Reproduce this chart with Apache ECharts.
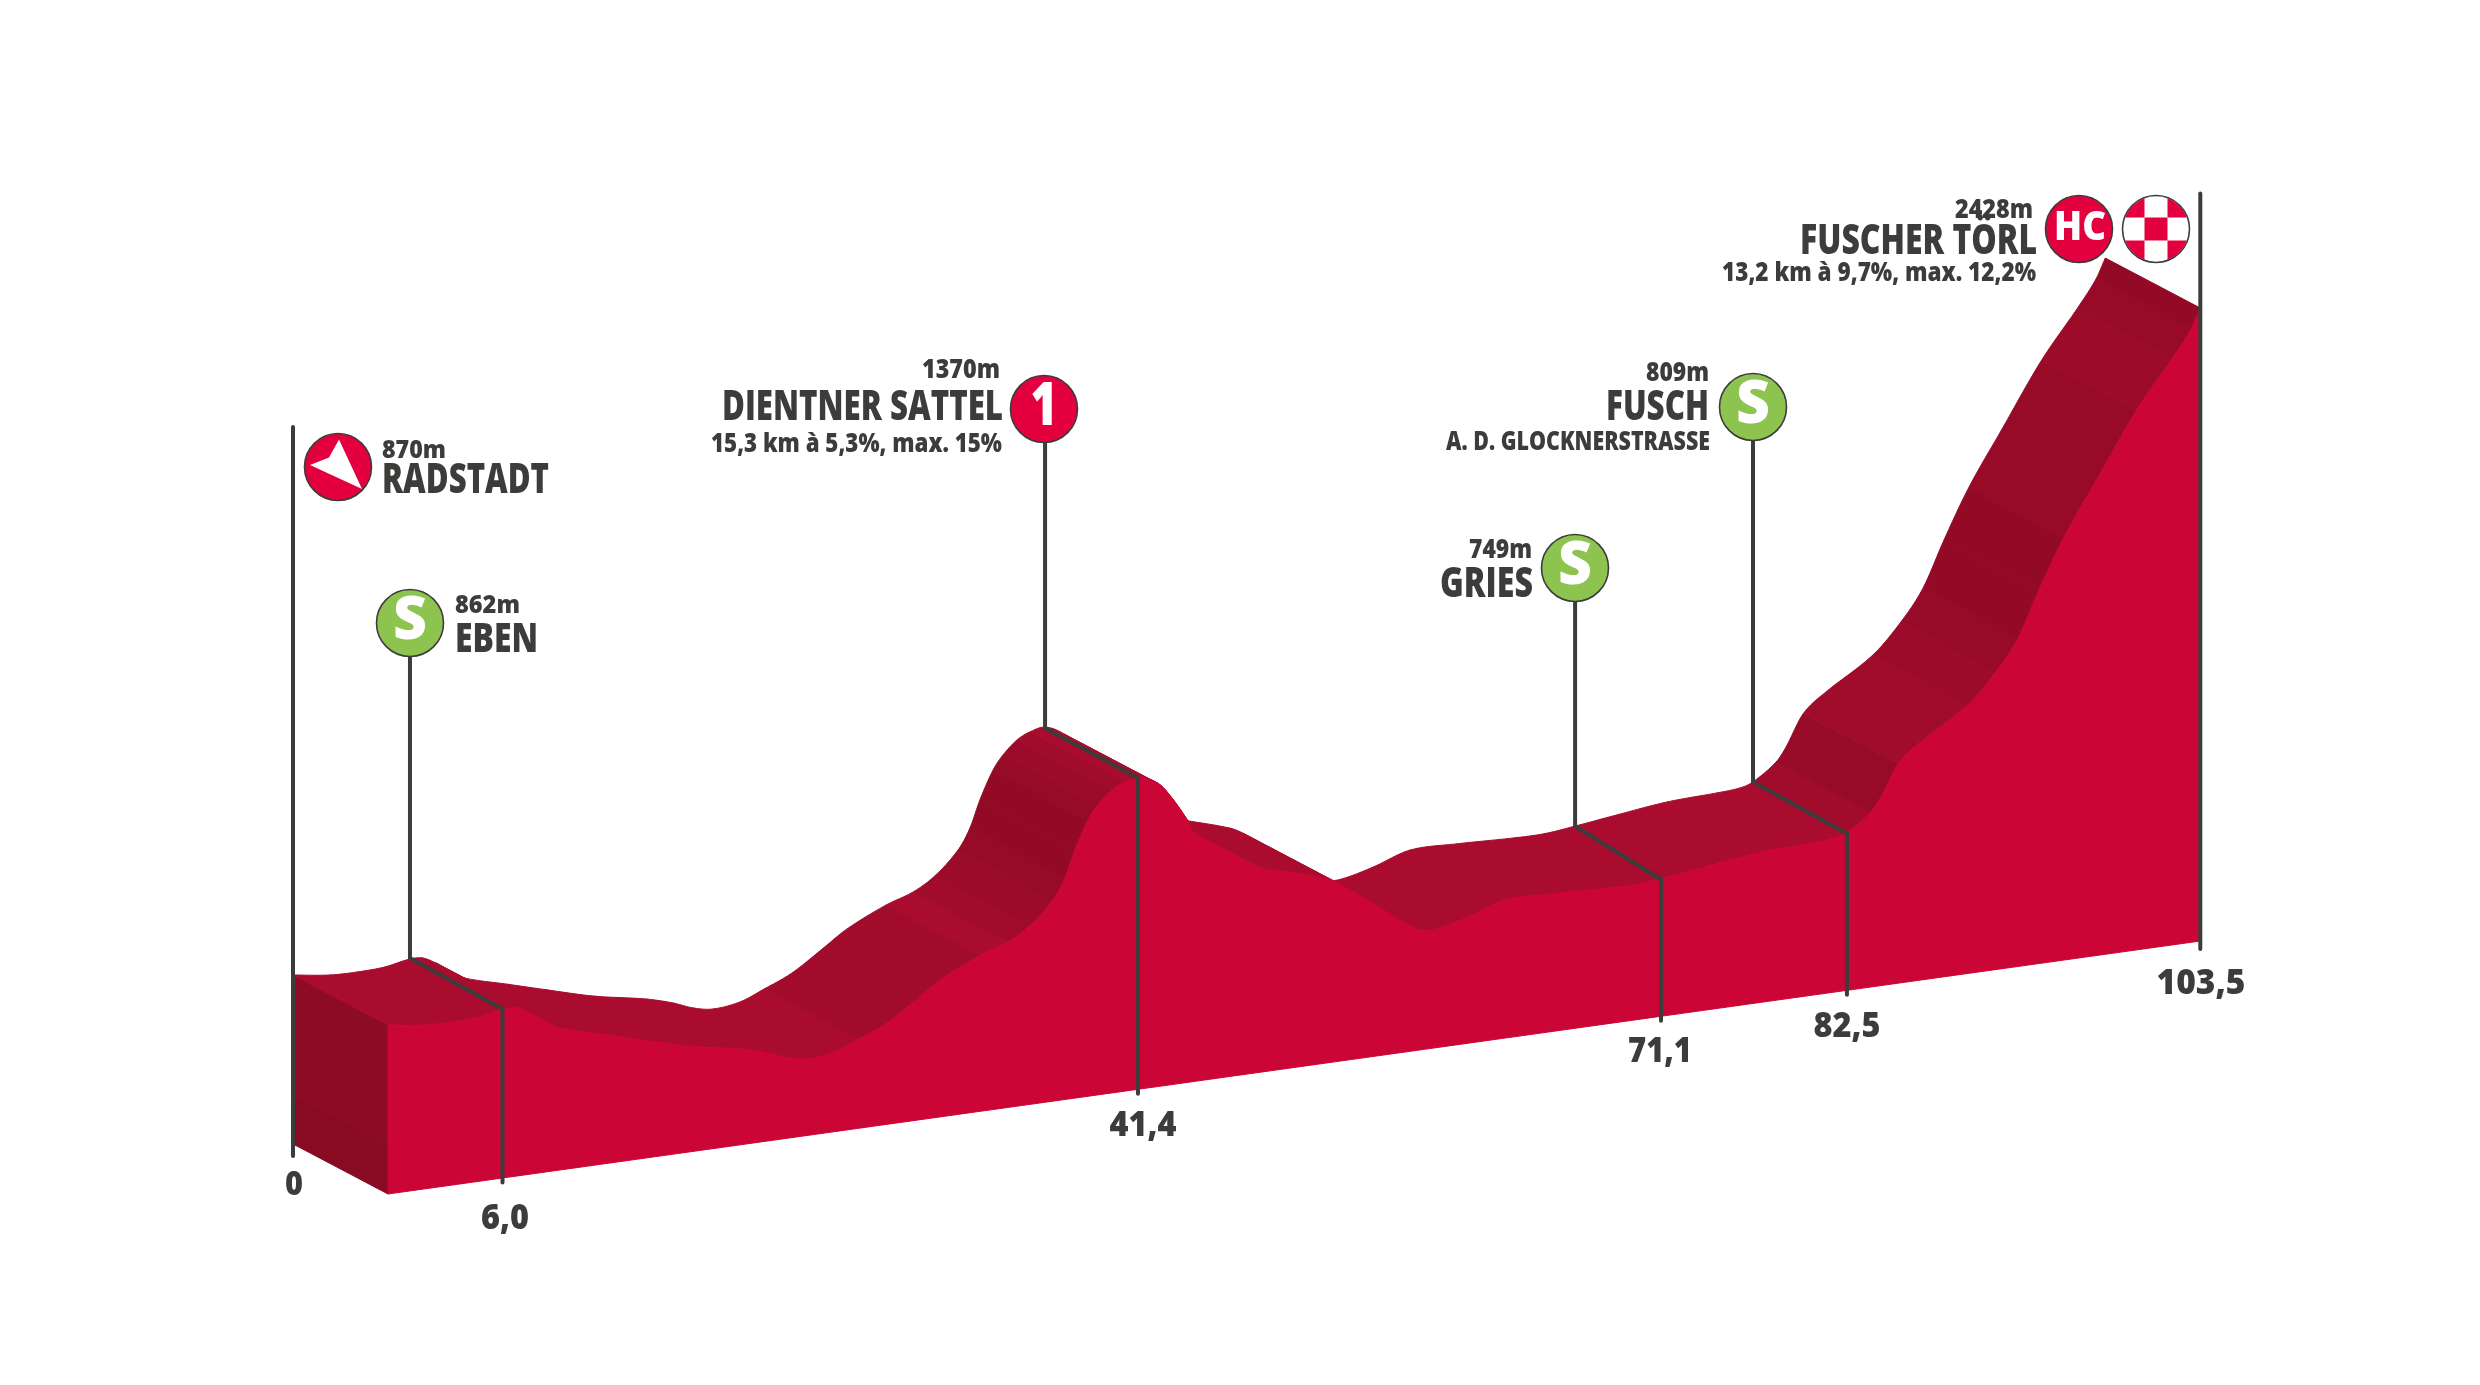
<!DOCTYPE html>
<html>
<head>
<meta charset="utf-8">
<style>html,body{margin:0;padding:0;background:#fff}#chart{width:2480px;height:1385px}</style>
<script src="https://cdn.jsdelivr.net/npm/echarts@6/dist/echarts.min.js"></script>
</head>
<body>
<div id="chart"></div>
<script>
// ---- Values ----
const profileKm = [0,2.06,3.66,5.25,6.57,7.37,8.17,8.97,9.77,12.22,14.51,17.19,20.16,21.7,22.84,23.99,25.53,26.9,28.5,30.27,31.64,33.87,35.41,36.66,37.98,38.66,39.23,39.98,40.55,41.35,42.09,42.95,44.03,44.77,45.69,46.03,47.86,49.86,51.11,53.51,54.25,56.31,58.08,58.94,59.79,61.68,63.79,66.42,69.73,71.5,73.22,75.61,78.47,81.32,82.64,83.38,84.7,85.27,86.24,87.55,90.23,91.83,93.09,94.29,95.72,97.54,99.83,101.94,102.97,103.5];
const profileElev = [870,853,850,854,868,867,843,810,780,739,701,658,624,598,572,559,570,602,643,711,765,827,858,902,978,1046,1136,1230,1276,1320,1341,1350,1318,1265,1180,1140,1065,988,968,924,901,814,736,705,700,726,766,765,758,758,769,787,807,814,820,834,890,936,1039,1102,1204,1302,1405,1557,1723,1896,2112,2275,2362,2428];
const stopNames = ['EBEN','DIENTNER SATTEL','GRIES','FUSCH','FUSCHER TÖRL','RADSTADT'];
const stopHeights = ['862m','1370m','749m','809m','2428m','870m'];
const climbNotes = ['15,3 km à 5,3%, max. 15%','A. D. GLOCKNERSTRASSE','13,2 km à 9,7%, max. 12,2%'];
const kmTickLabels = ['0','6,0','41,4','71,1','82,5','103,5'];
// stem feet on the drawn road: rear edge and front edge
const stemRearKm = [6.68,42.95,73.22,83.38];
const stemRearElev = [872,1347,769,834];
const stemFrontKm = [6.54,42.83,72.7,83.32];
const stemFrontElev = [870,1348,762,829];

// ---- Drawing constants ----
const baseElev = 302.5;      // elevation at which the sloped base line sits
const sideBandElev = 464;    // seam on the left side wall
const tilt = 8.208;          // page rise of the base line, axis units per km
const depthKm = -5.425, depthElev = 167.9; // oblique depth of the ribbon
const totalKm = 103.5;
const C = {front:'#CC0537', sideTop:'#8E0B25', sideLow:'#880A23', ink:'#3C3C3B', red:'#E4003F', green:'#8DC34F'};
const gradeShades = [[11,'#930A27'],[8,'#970B28'],[5,'#9C0B2A'],[2.5,'#A20C2C'],[-Infinity,'#A90C2E']];

const toAxis = (km,m,depth) => [km + depth*depthKm, m + tilt*km + depth*depthElev];

// Smooth drawing of the polyline between read points (rendering only)
function slopes(){
  const n = profileKm.length, s = [];
  for(let i=0;i<n;i++){
    const a=Math.max(0,i-1), b=Math.min(n-1,i+1);
    s.push((profileElev[b]-profileElev[a])/(profileKm[b]-profileKm[a]));
  }
  return s;
}
const tang = slopes();
function seg(i,steps){
  const x0=profileKm[i],x1=profileKm[i+1],y0=profileElev[i],y1=profileElev[i+1],h=x1-x0,out=[];
  for(let k=0;k<=steps;k++){
    const t=k/steps,t2=t*t,t3=t2*t;
    out.push([x0+h*t,(2*t3-3*t2+1)*y0+(t3-2*t2+t)*h*tang[i]+(-2*t3+3*t2)*y1+(t3-t2)*h*tang[i+1]]);
  }
  return out;
}
const segIdx = profileKm.slice(0,-1).map((_,i)=>i);
const grade = i => (profileElev[i+1]-profileElev[i])/(profileKm[i+1]-profileKm[i])/10;
const shade = g => gradeShades.find(r=>g>=r[0])[1];
// rear-facing descents are painted first, climbs over them
const ribbonOrder = segIdx.filter(i=>grade(i)<0).concat(segIdx.filter(i=>grade(i)>=0));

const solid = (points,fill) => ({type:'polygon',shape:{points},style:{fill,stroke:fill,lineWidth:1}});

const series = [];
function addCustom(rows,z,render){
  series.push({type:'custom',coordinateSystem:'cartesian2d',silent:true,z,clip:false,animation:false,
    data:rows.map((r,i)=>[i,0]),encode:{x:0,y:1},renderItem:(p,api)=>render(rows[p.dataIndex],api)});
}
// side wall
addCustom([[sideBandElev,profileElev[0],C.sideTop],[baseElev,sideBandElev,C.sideLow]],2,(r,api)=>{
  const c=(m,d)=>api.coord(toAxis(0,m,d));
  return solid([c(r[1],1),c(r[1],0),c(r[0],0),c(r[0],1)],r[2]);
});
// ribbon
addCustom(ribbonOrder,3,(i,api)=>{
  const s=seg(i,6);
  const back=s.map(p=>api.coord(toAxis(p[0],p[1],1)));
  const fr=s.map(p=>api.coord(toAxis(p[0],p[1],0))).reverse();
  return solid(back.concat(fr),shade(grade(i)));
});
// front face
addCustom([0],4,(_,api)=>{
  let pts=[];
  segIdx.forEach(i=>{pts=pts.concat(seg(i,6).map(p=>api.coord(toAxis(p[0],p[1],0))));});
  pts.push(api.coord(toAxis(totalKm,baseElev,0)),api.coord(toAxis(0,baseElev,0)));
  return solid(pts,C.front);
});
// stems
const line = pts => ({type:'polyline',shape:{points:pts},style:{fill:null,stroke:C.ink,lineWidth:4,lineJoin:'miter',lineCap:'round'}});
const badgeY = [623,408,568,406];
addCustom(stemRearKm.map((_,i)=>i),5,(i,api)=>{
  const rear=api.coord(toAxis(stemRearKm[i],stemRearElev[i],1));
  const fr=api.coord(toAxis(stemFrontKm[i],stemFrontElev[i],0));
  const foot=api.coord(toAxis(stemFrontKm[i],baseElev-15,0));
  return line([[rear[0],badgeY[i]],rear,fr,foot]);
});
addCustom([[0,1,427,baseElev-40],[totalKm,0,193.5,baseElev-27]],5,(r,api)=>{
  const foot=api.coord(toAxis(r[0],r[3],r[1]));
  return line([[foot[0],r[2]],foot]);
});

// ---- Text and badges (page annotations) ----
const mctx=document.createElement('canvas').getContext('2d');
const FF='"Open Sans"';
function txt(text,x,base,size,width,align,fill,weight){
  const w=weight||800;
  const font=`${w} ${size}px ${FF}`;
  mctx.font=font;
  const sx=width/mctx.measureText(text).width;
  return {type:'text',z:100,silent:true,x,y:base-0.29*size,scaleX:sx,scaleY:1,
    style:{text,font,fill:fill||C.ink,align:align||'left',verticalAlign:'middle'}};
}
const disc=(cx,cy,fill)=>({type:'circle',z:99,silent:true,shape:{cx,cy,r:33.5},style:{fill,stroke:C.ink,lineWidth:1.6}});
const W='#FFFFFF';
const elements=[
  // Radstadt
  disc(338,467,C.red),
  {type:'polygon',z:100,silent:true,shape:{points:[[339,439.5],[362,489],[310,465],[329,457.6]]},style:{fill:W}},
  txt(stopHeights[5],382,458,25,64),
  txt(stopNames[5],382,493,42,167),
  // Eben
  disc(410,623,C.green), txt('S',410,639,60,34,'center',W),
  txt(stopHeights[0],455,613,25,65),
  txt(stopNames[0],455,652,41,83),
  // Dientner Sattel
  disc(1044,409,C.red), txt('1',1044,425,60,27,'center',W),
  txt(stopHeights[1],1000,378,27,78,'right'),
  txt(stopNames[1],1003,420,42,281,'right'),
  txt(climbNotes[0],1002,452,26,291,'right'),
  // Gries
  disc(1575,568,C.green), txt('S',1575,584,60,34,'center',W),
  txt(stopHeights[2],1532,558,26,63,'right'),
  txt(stopNames[2],1533,597,42,93,'right'),
  // Fusch
  disc(1753,407,C.green), txt('S',1753,423,60,34,'center',W),
  txt(stopHeights[3],1709,381,26,63,'right'),
  txt(stopNames[3],1709,420,42,103,'right'),
  txt(climbNotes[1],1710,450,26,264,'right'),
  // Fuscher Törl
  disc(2079,229,C.red), txt('HC',2080,240,40,52,'center',W),
  disc(2156,229,W),
  txt(stopHeights[4],2033,218,27,78,'right'),
  txt(stopNames[4],2037,254,42,237,'right'),
  txt(climbNotes[2],2036,281,26,314,'right'),
  // km labels
  txt(kmTickLabels[0],294,1195,34,18,'center'),
  txt(kmTickLabels[1],505,1229,36,48,'center'),
  txt(kmTickLabels[2],1143,1136,36,67,'center'),
  txt(kmTickLabels[3],1660,1062,36,64,'center'),
  txt(kmTickLabels[4],1847,1037,36,67,'center'),
  txt(kmTickLabels[5],2201,994,36,89,'center')
];
// checker inside the finish badge, clipped to the disc
(function(){
  const cx=2156,cy=229,R=32.8,h=11.5;
  const cells=[[-1,-1],[1,-1],[0,0],[-1,1],[1,1]];
  cells.forEach(([a,b])=>{
    const x0=cx+(a*2-1)*h,x1=cx+(a*2+1)*h,y0=cy+(b*2-1)*h,y1=cy+(b*2+1)*h,pts=[];
    const N=24;
    const add=(x,y)=>{const dx=x-cx,dy=y-cy,d=Math.hypot(dx,dy);pts.push(d>R?[cx+dx*R/d,cy+dy*R/d]:[x,y]);};
    for(let k=0;k<N;k++)add(x0+(x1-x0)*k/N,y0);
    for(let k=0;k<N;k++)add(x1,y0+(y1-y0)*k/N);
    for(let k=0;k<N;k++)add(x1-(x1-x0)*k/N,y1);
    for(let k=0;k<N;k++)add(x0,y1-(y1-y0)*k/N);
    elements.push({type:'polygon',z:100,silent:true,shape:{points:pts},style:{fill:C.red}});
  });
})();
const chart=echarts.init(document.getElementById('chart'),null,{renderer:'canvas'});
chart.setOption({
  animation:false,
  backgroundColor:'#FFFFFF',
  grid:{left:293,right:279.7,top:0,bottom:0,containLabel:false},
  xAxis:{type:'value',min:depthKm,max:totalKm,show:false},
  yAxis:{type:'value',min:-338.9,max:4311.9,show:false},
  series,
  graphic:{elements}
});
</script>
</body>
</html>
